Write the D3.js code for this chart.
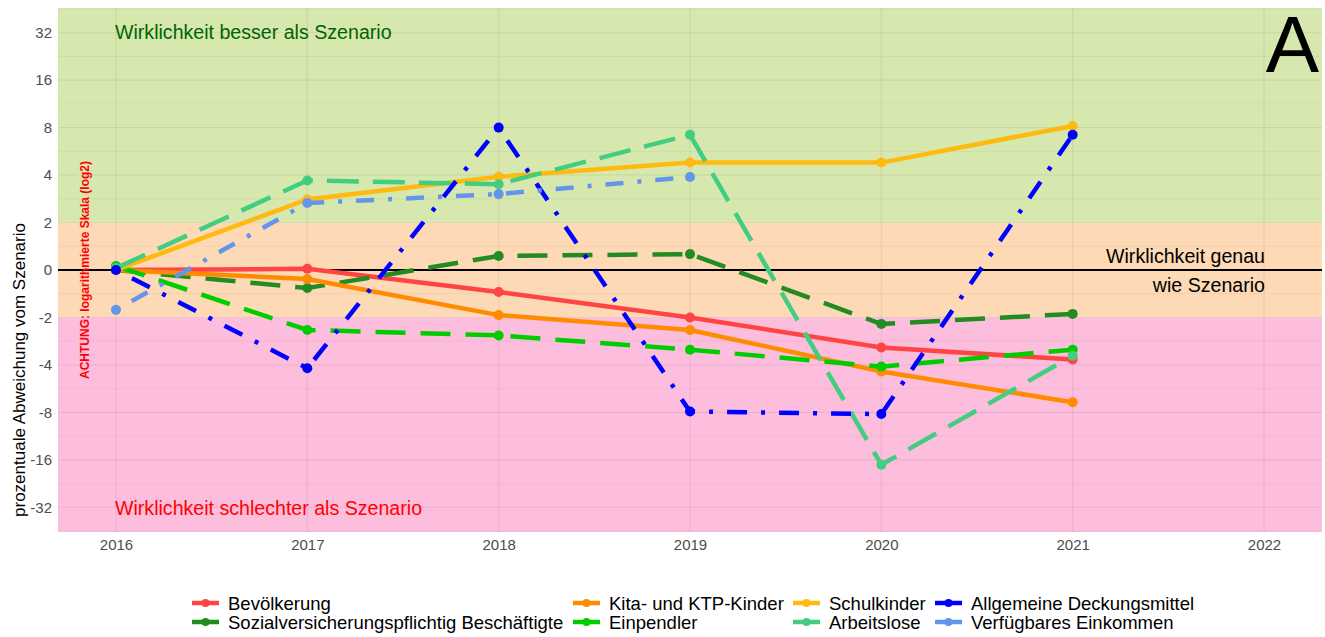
<!DOCTYPE html>
<html>
<head>
<meta charset="utf-8">
<script src="https://cdn.jsdelivr.net/npm/d3@7"></script>
<style>
  body { margin: 0; background: #fff; }
  text { font-family: "Liberation Sans", Arial, sans-serif; }
</style>
</head>
<body>
<div id="chart"></div>
<script>
var years = [2016, 2017, 2018, 2019, 2020, 2021];
var yearTicks = [2016, 2017, 2018, 2019, 2020, 2021, 2022];
var yTickLabels = [-32, -16, -8, -4, -2, 0, 2, 4, 8, 16, 32];

var bevoelkerung = [0, 0.05, -0.93, -2.0, -3.1, -3.7];
var sozial = [0, -0.76, 0.59, 0.67, -2.2, -1.85];
var kita = [0, -0.38, -1.9, -2.4, -4.4, -6.9];
var einpendler = [0.17, -2.4, -2.6, -3.2, -4.1, -3.2];
var schulkinder = [0, 2.8, 3.9, 4.8, 4.8, 8.2];
var arbeitslose = [0.08, 3.7, 3.5, 7.2, -17.2, -3.5];
var deckungsmittel = [0, -4.2, 8.0, -7.9, -8.2, 7.2];
var einkommen = [-1.68, 2.66, 3.03, 3.89];

var seriesNames = ['Bevölkerung', 'Sozialversicherungspflichtig Beschäftigte', 'Kita- und KTP-Kinder', 'Einpendler',
  'Schulkinder', 'Arbeitslose', 'Allgemeine Deckungsmittel', 'Verfügbares Einkommen'];
var seriesValues = [bevoelkerung, sozial, kita, einpendler, schulkinder, arbeitslose, deckungsmittel, einkommen];
var colors = ['#ff4444', '#228b22', '#ff8c00', '#00cd00', '#ffb90f', '#43cd80', '#0000ff', '#6495ed'];
var dashes = [null, '30,15', null, '30,15', null, '32,14', '4,14,20,14', '4,14,18,14'];

// log2 scale, linear between -2 and 2
function tf(v) {
  var a = Math.abs(v);
  return a >= 2 ? Math.sign(v) * Math.log2(a) : v / 2;
}

var W = 1325, H = 637;
var margin = { left: 58, right: 3, top: 8, bottom: 105 };
var w = W - margin.left - margin.right;
var h = H - margin.top - margin.bottom;

var svg = d3.select('#chart').append('svg')
  .attr('width', W).attr('height', H);
var g = svg.append('g')
  .attr('transform', 'translate(' + margin.left + ',' + margin.top + ')');

var x = d3.scaleLinear().domain([2015.697, 2022.303]).range([0, w]);
var y = d3.scaleLinear().domain([-5.52, 5.52]).range([h, 0]);

// background bands
var bands = [
  { lo: 1, hi: 5.52, fill: '#d7e8af' },
  { lo: -1, hi: 1, fill: '#fdd9b5' },
  { lo: -5.52, hi: -1, fill: '#fdbedd' }
];
g.selectAll('rect.band').data(bands).enter().append('rect')
  .attr('x', 0).attr('width', w)
  .attr('y', function(d) { return y(d.hi); })
  .attr('height', function(d) { return y(d.lo) - y(d.hi); })
  .attr('fill', function(d) { return d.fill; });

// grid
var minor = d3.range(-5.5, 5.6, 1);
g.selectAll('line.minor').data(minor).enter().append('line')
  .attr('x1', 0).attr('x2', w)
  .attr('y1', function(d) { return y(d); }).attr('y2', function(d) { return y(d); })
  .attr('stroke', 'rgba(0,0,0,0.045)').attr('stroke-width', 1);
g.selectAll('line.major').data(yTickLabels).enter().append('line')
  .attr('x1', 0).attr('x2', w)
  .attr('y1', function(d) { return y(tf(d)); }).attr('y2', function(d) { return y(tf(d)); })
  .attr('stroke', 'rgba(0,0,0,0.07)').attr('stroke-width', 1.1);
g.selectAll('line.vgrid').data(yearTicks).enter().append('line')
  .attr('y1', 0).attr('y2', h)
  .attr('x1', function(d) { return x(d); }).attr('x2', function(d) { return x(d); })
  .attr('stroke', 'rgba(0,0,0,0.07)').attr('stroke-width', 1.1);

// zero line
g.append('line')
  .attr('x1', 0).attr('x2', w)
  .attr('y1', y(0)).attr('y2', y(0))
  .attr('stroke', '#000').attr('stroke-width', 2);

// axes
var yAxis = d3.axisLeft(y)
  .tickValues(yTickLabels.map(tf))
  .tickFormat(function(d, i) { return yTickLabels[i]; })
  .tickSize(0).tickPadding(6);
g.append('g').call(yAxis)
  .call(function(s) { s.select('.domain').remove(); })
  .selectAll('text').attr('fill', '#4d4d4d').style('font-size', '15px');

var xAxis = d3.axisBottom(x)
  .tickValues(yearTicks)
  .tickFormat(d3.format('d'))
  .tickSize(0).tickPadding(7);
g.append('g').attr('transform', 'translate(0,' + h + ')').call(xAxis)
  .call(function(s) { s.select('.domain').remove(); })
  .selectAll('text').attr('fill', '#4d4d4d').style('font-size', '15px');

// lines and points
var line = d3.line()
  .x(function(d) { return x(d.year); })
  .y(function(d) { return y(tf(d.value)); });

seriesValues.forEach(function(vals, i) {
  var pts = vals.map(function(v, j) { return { year: years[j], value: v }; });
  g.append('path').datum(pts)
    .attr('d', line)
    .attr('fill', 'none')
    .attr('stroke', colors[i])
    .attr('stroke-width', 4.5)
    .attr('stroke-dasharray', dashes[i]);
  g.selectAll('circle.s' + i).data(pts).enter().append('circle')
    .attr('cx', function(d) { return x(d.year); })
    .attr('cy', function(d) { return y(tf(d.value)); })
    .attr('r', 5)
    .attr('fill', colors[i]);
});

// annotations
g.append('text').attr('x', x(2016) - 1).attr('y', 31)
  .attr('fill', '#006400').style('font-size', '19.6px')
  .text('Wirklichkeit besser als Szenario');
g.append('text').attr('x', x(2016) - 1).attr('y', 507)
  .attr('fill', '#ff0000').style('font-size', '19.6px')
  .text('Wirklichkeit schlechter als Szenario');
g.append('text').attr('x', x(2022) + 1).attr('y', 255)
  .attr('text-anchor', 'end').attr('fill', '#000').style('font-size', '19.6px')
  .text('Wirklichkeit genau');
g.append('text').attr('x', x(2022) + 1).attr('y', 284)
  .attr('text-anchor', 'end').attr('fill', '#000').style('font-size', '19.6px')
  .text('wie Szenario');
g.append('text').attr('x', w - 3).attr('y', 64)
  .attr('text-anchor', 'end').attr('fill', '#000').style('font-size', '80px')
  .text('A');
g.append('text')
  .attr('transform', 'translate(' + 31 + ',' + y(0) + ') rotate(-90)')
  .attr('text-anchor', 'middle').attr('fill', '#ff0000')
  .style('font-size', '12px').style('font-weight', 'bold')
  .text('ACHTUNG: logarithmierte Skala (log2)');

// y axis title
svg.append('text')
  .attr('transform', 'translate(25,370) rotate(-90)')
  .attr('text-anchor', 'middle').attr('fill', '#000').style('font-size', '17px')
  .text('prozentuale Abweichung vom Szenario');

// legend
var colX = [192, 573, 793, 935];
var rowY = [603, 622];
var legend = svg.append('g');
seriesNames.forEach(function(name, i) {
  var cx = colX[Math.floor(i / 2)];
  var cy = rowY[i % 2];
  var item = legend.append('g').attr('transform', 'translate(' + cx + ',' + cy + ')');
  item.append('line').attr('x1', 0).attr('x2', 27).attr('y1', 0).attr('y2', 0)
    .attr('stroke', colors[i]).attr('stroke-width', 4.5);
  item.append('circle').attr('cx', 13.5).attr('cy', 0).attr('r', 4).attr('fill', colors[i]);
  item.append('text').attr('x', 36).attr('y', 6.5)
    .attr('fill', '#000').style('font-size', '18.5px')
    .text(name);
});
</script>
</body>
</html>
